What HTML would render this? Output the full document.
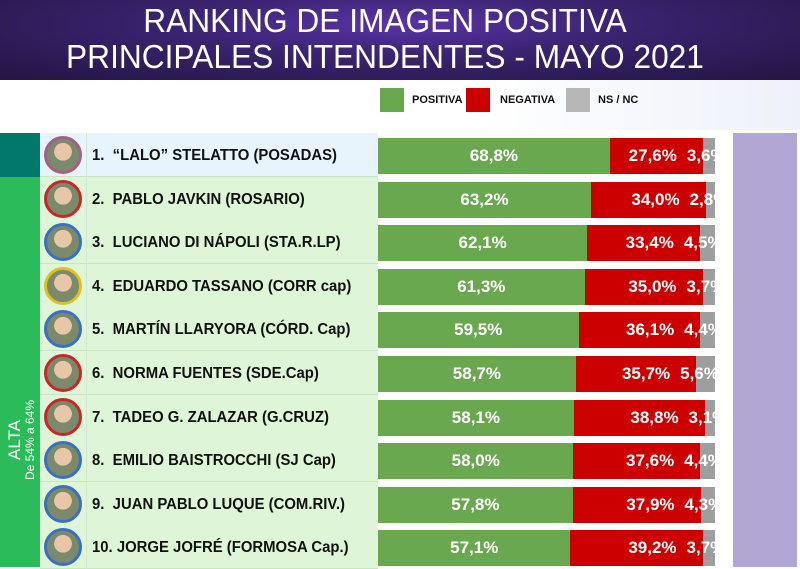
<!DOCTYPE html>
<html><head><meta charset="utf-8"><style>
*{margin:0;padding:0;box-sizing:border-box}
body{width:800px;height:567px;overflow:hidden;background:#fff;position:relative;font-family:"Liberation Sans",sans-serif}
.a{position:absolute}
.hdr{left:0;top:0;width:800px;height:80px;background:radial-gradient(ellipse at 50% 30%,#5a34a8 0%,#3a2370 40%,#241542 100%)}
.t{color:#fff;font-size:33px;width:800px;text-align:center;left:-15px;transform:scaleX(0.96)}
.lg{width:24px;height:24px;top:88px}
.lt{font-size:11px;font-weight:bold;top:94px;color:#111}
.nm{font-size:16px;font-weight:bold;color:#111;left:92px;line-height:43px;white-space:nowrap;transform:scaleX(0.93);transform-origin:0 50%}
.ph{width:38px;height:38px;border-radius:50%;border:3px solid #c62828;left:44px;background:radial-gradient(circle at 50% 40%,#e8c6a8 0 35%,#7a8a6a 36% 100%)}
.lbl{color:#fff;font-weight:bold;font-size:17px;line-height:36px;white-space:nowrap}
</style></head><body>
<div class="a hdr"></div>
<div class="a t" style="top:2px">RANKING DE IMAGEN POSITIVA</div>
<div class="a t" style="top:38px">PRINCIPALES INTENDENTES - MAYO 2021</div>
<div class="a" style="left:0;top:80px;width:800px;height:50px;background:linear-gradient(90deg,#fff 60%,#eef1fa)"></div>
<div class="a lg" style="left:380px;background:#6aa84f"></div><div class="a lt" style="left:412px">POSITIVA</div>
<div class="a lg" style="left:466px;background:#cc0000"></div><div class="a lt" style="left:500px">NEGATIVA</div>
<div class="a lg" style="left:566px;background:#b7b7b7"></div><div class="a lt" style="left:598px">NS / NC</div>
<div class="a" style="left:733px;top:133px;width:64px;height:434px;background:#b1a6d4"></div>
<div class="a" style="left:0;top:133px;width:40px;height:44px;background:#00796b"></div>
<div class="a" style="left:0;top:177px;width:40px;height:390px;background:#2bbb5a"></div>
<div class="a" style="left:6px;top:505px;transform:rotate(-90deg);transform-origin:0 0;color:#fff;white-space:nowrap;width:130px;text-align:center"><div style="font-size:17px;line-height:17px">ALTA</div><div style="font-size:12px;line-height:15px">De 54% a 64%</div></div>
<div id="rows"></div>
<script>
var d=[["1.&nbsp; “LALO” STELATTO (POSADAS)",68.8,27.6,"3,6%","#a0608a"],
["2.&nbsp; PABLO JAVKIN (ROSARIO)",63.2,34.0,"2,8%","#c62828"],
["3.&nbsp; LUCIANO DI NÁPOLI (STA.R.LP)",62.1,33.4,"4,5%","#3a6fc4"],
["4.&nbsp; EDUARDO TASSANO (CORR cap)",61.3,35.0,"3,7%","#e0c020"],
["5.&nbsp; MARTÍN LLARYORA (CÓRD. Cap)",59.5,36.1,"4,4%","#3a6fc4"],
["6.&nbsp; NORMA FUENTES (SDE.Cap)",58.7,35.7,"5,6%","#c62828"],
["7.&nbsp; TADEO G. ZALAZAR (G.CRUZ)",58.1,38.8,"3,1%","#c62828"],
["8.&nbsp; EMILIO BAISTROCCHI (SJ Cap)",58.0,37.6,"4,4%","#3a6fc4"],
["9.&nbsp; JUAN PABLO LUQUE (COM.RIV.)",57.8,37.9,"4,3%","#3a6fc4"],
["10. JORGE JOFRÉ (FORMOSA Cap.)",57.1,39.2,"3,7%","#3a6fc4"]];
var h="";var W=337,X=378;
d.forEach(function(r,i){var top=133+i*43.6;
var bg=i==0?"#e8f4fb":"#dff5d8";
h+='<div class="a" style="left:40px;top:'+top+'px;width:338px;height:44px;background:'+bg+';border-bottom:1px solid #c8e6c0"></div>';
h+='<div class="a" style="left:86px;top:'+top+'px;width:1px;height:44px;background:#d0e8d0"></div>';
h+='<div class="a ph" style="top:'+(top+3)+'px;border-color:'+r[4]+'"></div>';
h+='<div class="a nm" style="top:'+(top+1)+'px">'+r[0]+'</div>';
var bt=top+5,g=W*r[1]/100,n=W*r[2]/100;
h+='<div class="a" style="left:'+X+'px;top:'+bt+'px;width:'+W+'px;height:36px;background:#9e9e9e;overflow:hidden">'+
'<div class="a" style="left:0;top:0;width:'+g+'px;height:36px;background:#6aa84f"></div>'+
'<div class="a" style="left:'+g+'px;top:0;width:'+n+'px;height:36px;background:#cc0000"></div>'+
'<div class="a lbl" style="left:0;width:'+g+'px;text-align:center">'+r[1].toFixed(1).replace(".",",")+'%</div>'+
'<div class="a lbl" style="right:'+(W-g-n+26)+'px">'+r[2].toFixed(1).replace(".",",")+'%</div>'+
'<div class="a lbl" style="left:'+(g+n-16)+'px">'+r[3]+'</div></div>';
});
document.getElementById("rows").innerHTML=h;
</script>
</body></html>
